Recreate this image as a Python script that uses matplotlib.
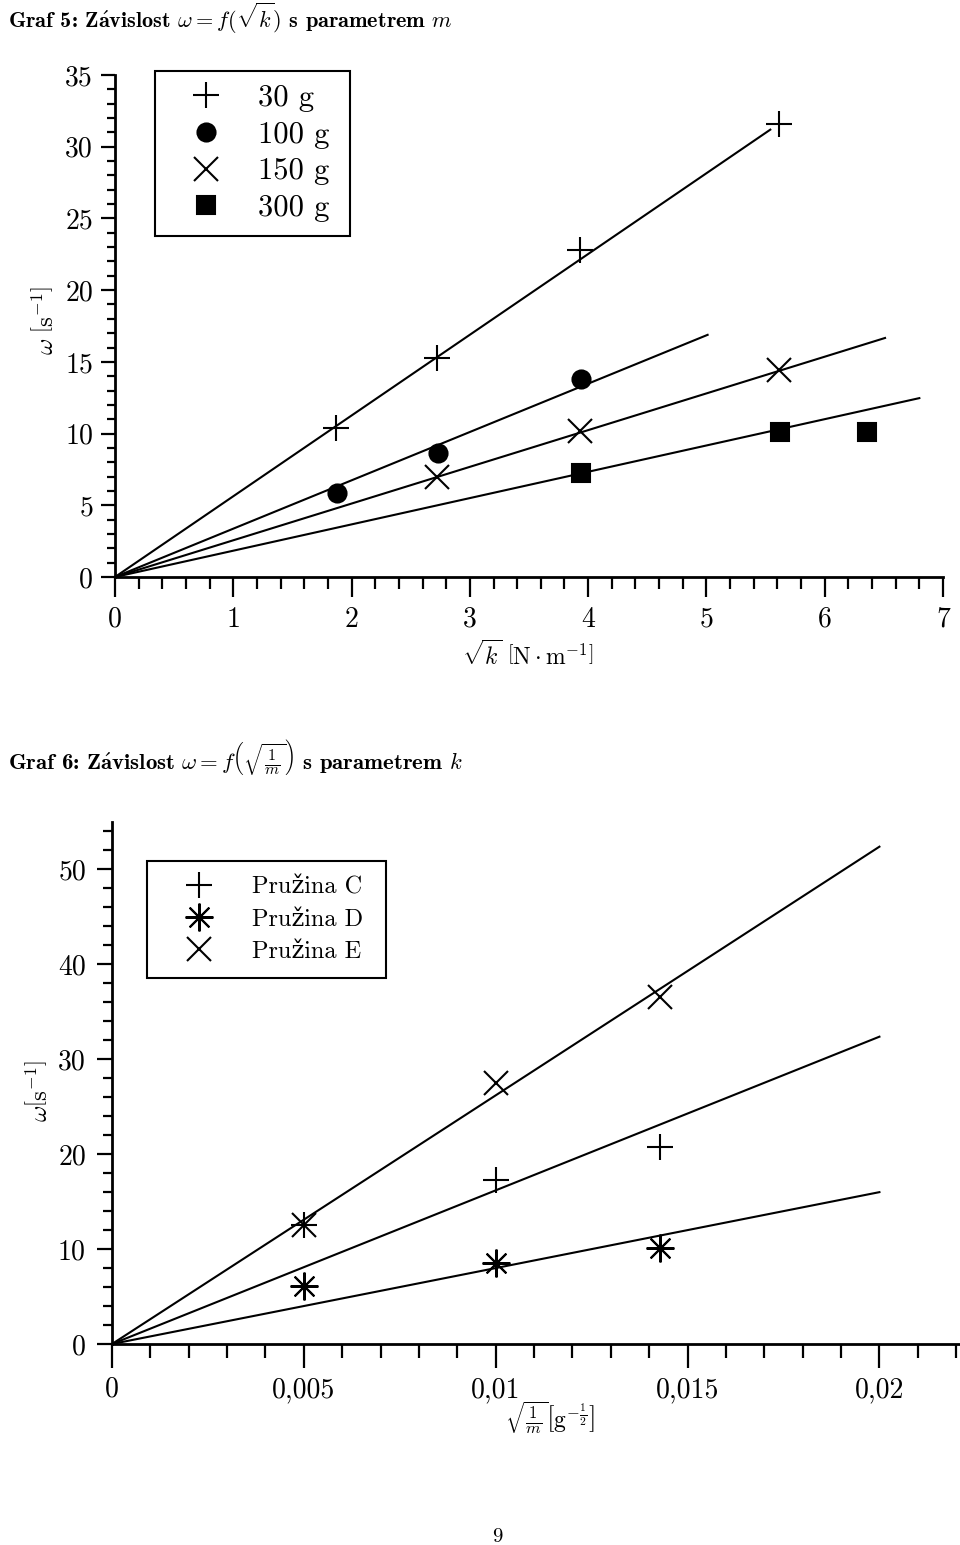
import matplotlib
matplotlib.use('Agg')
import matplotlib.pyplot as plt
from matplotlib.ticker import MultipleLocator, FuncFormatter

plt.rcParams['font.family'] = ['cmr10', 'DejaVu Serif']
plt.rcParams['mathtext.fontset'] = 'cm'
plt.rcParams['axes.unicode_minus'] = False
plt.rcParams['axes.formatter.use_mathtext'] = True

# ---- Graf 5 data: omega vs sqrt(k), parameter m ----
sqrt_k_30 = [1.87, 2.72, 3.93, 5.61]
omega_30 = [10.4, 15.3, 22.8, 31.6]
sqrt_k_100 = [1.88, 2.73, 3.94]
omega_100 = [5.85, 8.65, 13.8]
sqrt_k_150 = [2.72, 3.93, 5.61]
omega_150 = [7.0, 10.2, 14.4]
sqrt_k_300 = [3.94, 5.62, 6.36]
omega_300 = [7.25, 10.1, 10.1]
labels_5 = ['30 g', '100 g', '150 g', '300 g']
fit_slope_5 = [5.63, 3.37, 2.56, 1.834]
fit_end_5 = [5.54, 5.01, 6.51, 6.80]

# ---- Graf 6 data: omega vs sqrt(1/m), parameter k ----
inv_sqrt_m = [0.005, 0.01, 0.01429]
omega_C = [12.5, 17.3, 20.8]
omega_D = [6.1, 8.5, 10.1]
omega_E = [12.5, 27.5, 36.6]
labels_6 = ['Pružina C', 'Pružina D', 'Pružina E']
fit_slope_6 = [1619, 800, 2620]
fit_end_6 = [0.02, 0.02, 0.02]

W, H = 960, 1545
fig = plt.figure(figsize=(W / 100, H / 100), dpi=100)


def px(x, y):
    return x / W, 1 - y / H


def style_axes(ax, xlen, xpad, ylen, ypad):
    # lengths / pads in points
    for s in ['top', 'right']:
        ax.spines[s].set_visible(False)
    for s in ['left', 'bottom']:
        ax.spines[s].set_linewidth(2.0)
    ax.tick_params(axis='both', which='both', direction='out', width=1.6,
                   labelsize=20, color='black')
    ax.tick_params(axis='x', which='major', length=xlen, pad=xpad)
    ax.tick_params(axis='x', which='minor', length=xlen * 0.58)
    ax.tick_params(axis='y', which='major', length=ylen, pad=ypad)
    ax.tick_params(axis='y', which='minor', length=ylen * 0.6)


# ================= Graf 5 =================
ax1 = fig.add_axes([115 / W, 1 - 577 / H, 828 / W, 502 / H])
mk = dict(color='black', linestyle='none', mec='black', mew=1.5)
ax1.plot(sqrt_k_30, omega_30, marker='+', ms=19, label=labels_5[0], **mk)
ax1.plot(sqrt_k_100, omega_100, marker='o', ms=13, label=labels_5[1], **mk)
ax1.plot(sqrt_k_150, omega_150, marker='x', ms=17, label=labels_5[2], **mk)
ax1.plot(sqrt_k_300, omega_300, marker='s', ms=13.5, label=labels_5[3], **mk)
for a, xe in zip(fit_slope_5, fit_end_5):
    ax1.plot([0, xe], [0, a * xe], color='black', lw=1.5, clip_on=False)

ax1.set_xlim(0, 7)
ax1.set_ylim(0, 35)
ax1.xaxis.set_major_locator(MultipleLocator(1))
ax1.xaxis.set_minor_locator(MultipleLocator(0.2))
ax1.yaxis.set_major_locator(MultipleLocator(5))
ax1.yaxis.set_minor_locator(MultipleLocator(1))
ax1.xaxis.set_major_formatter(FuncFormatter(lambda v, p: '%g' % v))
ax1.yaxis.set_major_formatter(FuncFormatter(lambda v, p: '%g' % v))
style_axes(ax1, 14.4, 6.8, 10, 5.8)

top1 = (577 - 71) / 502
leg1 = ax1.legend(loc='upper left',
                  bbox_to_anchor=((155 - 115) / 828, top1 - 0.5, (350 - 155) / 828, 0.5),
                  mode='expand', borderaxespad=0, frameon=True, fancybox=False,
                  framealpha=1, edgecolor='black', fontsize=22, numpoints=1,
                  handlelength=2.46, handletextpad=0.47, borderpad=0.45,
                  labelspacing=0.3)
leg1.get_frame().set_linewidth(1.5)

fig.text(*px(8, 18), r'Graf 5: Z$\mathbf{\acute{a}}$vislost $\omega = f(\sqrt{k})$ s parametrem $m$',
         fontsize=16, fontweight='bold', family=['cmb10', 'DejaVu Serif'],
         ha='left', va='center')
fig.text(*px(528, 655), r'$\sqrt{k}\ \left[\mathrm{N}\cdot\mathrm{m}^{-1}\right]$',
         fontsize=17, ha='center', va='center')
fig.text(*px(45, 320), r'$\omega\ \left[\mathrm{s}^{-1}\right]$',
         fontsize=18, ha='center', va='center', rotation=90)

# ================= Graf 6 =================
ax2 = fig.add_axes([112 / W, 1 - 1344 / H, 848 / W, 522 / H])
ax2.plot(inv_sqrt_m, omega_C, marker='+', ms=19, label=labels_6[0], **mk)
ax2.plot(inv_sqrt_m, omega_D, marker=(8, 2, 0), ms=20, label=labels_6[1], **mk)
ax2.plot(inv_sqrt_m, omega_E, marker='x', ms=17.5, label=labels_6[2], **mk)
for a, xe in zip(fit_slope_6, fit_end_6):
    ax2.plot([0, xe], [0, a * xe], color='black', lw=1.5, clip_on=False)

ax2.set_xlim(0, 0.0221)
ax2.set_ylim(0, 55)
ax2.xaxis.set_major_locator(MultipleLocator(0.005))
ax2.xaxis.set_minor_locator(MultipleLocator(0.001))
ax2.yaxis.set_major_locator(MultipleLocator(10))
ax2.yaxis.set_minor_locator(MultipleLocator(2))
ax2.xaxis.set_major_formatter(FuncFormatter(lambda v, p: ('%g' % round(v, 4)).replace('.', ',')))
ax2.yaxis.set_major_formatter(FuncFormatter(lambda v, p: '%g' % v))
style_axes(ax2, 17, 6.5, 10.8, 8)

top2 = (1344 - 861) / 522
leg2 = ax2.legend(loc='upper left',
                  bbox_to_anchor=((147 - 112) / 848, top2 - 0.5, (386 - 147) / 848, 0.5),
                  mode='expand', borderaxespad=0, frameon=True, fancybox=False,
                  framealpha=1, edgecolor='black', fontsize=17.5, numpoints=1,
                  handlelength=2.96, handletextpad=0.7, borderpad=0.65,
                  labelspacing=0.4)
leg2.get_frame().set_linewidth(1.5)

fig.text(*px(8, 757), r'Graf 6: Z$\mathbf{\acute{a}}$vislost $\omega = f\left(\sqrt{\frac{1}{m}}\right)$ s parametrem $k$',
         fontsize=16.4, fontweight='bold', family=['cmb10', 'DejaVu Serif'],
         ha='left', va='center')
fig.text(*px(550, 1418), r'$\sqrt{\frac{1}{m}}\left[\mathrm{g}^{-\frac{1}{2}}\right]$',
         fontsize=17, ha='center', va='center')
fig.text(*px(39, 1091), r'$\omega\left[\mathrm{s}^{-1}\right]$',
         fontsize=18, ha='center', va='center', rotation=90)

fig.text(*px(497, 1537), '9', fontsize=15, ha='center', va='center')

fig.savefig('out.png', dpi=100)
